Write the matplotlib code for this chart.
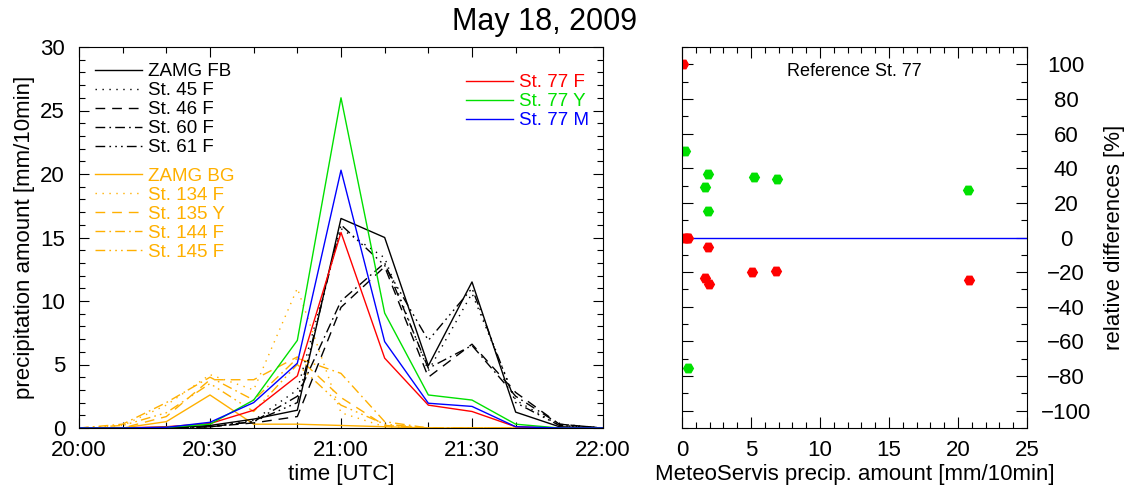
import matplotlib
matplotlib.use("Agg")
import matplotlib.pyplot as plt
from matplotlib.lines import Line2D
from matplotlib.ticker import MultipleLocator, FixedLocator
import numpy as np

plt.rcParams['font.family'] = ['Liberation Sans', 'DejaVu Sans']

# ---------------- data ----------------
times = ["20:00", "20:10", "20:20", "20:30", "20:40", "20:50", "21:00",
         "21:10", "21:20", "21:30", "21:40", "21:50", "22:00"]

zamg_fb = [0, 0, 0, 0.2, 0.7, 1.4, 16.5, 15.0, 4.9, 11.5, 1.25, 0.1, 0]
st45f   = [0, 0, 0, 0.1, 0.6, 3.0, 15.7, 13.4, 4.5, 10.6, 2.2, 0.2, 0]
st46f   = [0, 0, 0, 0.1, 0.4, 0.9, 9.5, 12.7, 4.0, 6.6, 2.8, 0.3, 0]
st60f   = [0, 0, 0, 0.1, 0.5, 2.5, 10.0, 13.0, 4.7, 6.5, 2.5, 0.3, 0]
st61f   = [0, 0, 0, 0.1, 0.5, 2.0, 16.0, 12.8, 6.9, 11.0, 2.0, 0.2, 0]

zamg_bg = [0, 0, 0.5, 2.6, 0.3, 0.3, 0.2, 0.1, 0, 0, 0, 0, 0]
st134f  = [0, 0.2, 1.8, 4.2, 3.0, 11.0, 1.2, 0.1, 0, 0, 0, 0, 0]
st135y  = [0, 0, 0.9, 3.8, 3.8, 5.6, 2.4, 0.2, 0, 0, 0, 0, 0]
st144f  = [0, 0.3, 2.0, 4.0, 2.2, 5.5, 4.3, 0.5, 0, 0, 0, 0, 0]
st145f  = [0, 0.2, 1.2, 3.5, 1.3, 5.0, 1.8, 0.3, 0, 0, 0, 0, 0]

st77f = [0, 0, 0.1, 0.35, 1.4, 4.1, 15.4, 5.5, 1.8, 1.3, 0.1, 0, 0]
st77y = [0, 0, 0.05, 0.3, 2.2, 6.9, 26.0, 9.05, 2.6, 2.2, 0.3, 0, 0]
st77m = [0, 0, 0.05, 0.45, 2.0, 5.1, 20.3, 6.8, 1.95, 1.7, 0.1, 0, 0]

# right panel: MeteoServis amount vs relative differences
red_x = [0.05, 0.2, 0.35, 0.45, 1.92, 1.7, 1.95, 5.1, 6.8, 20.8]
red_y = [100, 0, 0, 0, -5.4, -23.3, -26.6, -19.9, -19.3, -24.3]
grn_x = [0.24, 1.9, 1.7, 1.9, 5.2, 6.9, 20.7, 0.4]
grn_y = [49.7, 36.5, 29.0, 15.5, 35.2, 33.6, 27.6, -75.3]

xtick_labels = ["20:00", "20:30", "21:00", "21:30", "22:00"]

# ---------------- figure ----------------
W, H = 1131, 488
fig = plt.figure(figsize=(W / 100, H / 100), dpi=100)

def ax_rect(x0, y0, x1, y1):
    return [x0 / W, 1 - y1 / H, (x1 - x0) / W, (y1 - y0) / H]

ax = fig.add_axes(ax_rect(79, 47, 603, 428))
ax2 = fig.add_axes(ax_rect(682, 47, 1027, 428))

def to_min(t):
    h, m = t.split(":")
    return (int(h) - 20) * 60 + int(m)

tx = np.array([to_min(t) for t in times])

orange = '#FFB000'
dot = (0, (1, 4))
dash = (0, (7, 5))
dashdot = (0, (7, 3, 1.2, 3))
dash3dot = (0, (7, 3, 1.2, 3, 1.2, 3, 1.2, 3))
lw = 1.0

ax.plot(tx, zamg_bg, color=orange, lw=lw, ls='-')
ax.plot(tx, st134f, color=orange, lw=lw, ls=dot)
ax.plot(tx, st135y, color=orange, lw=lw, ls=dash)
ax.plot(tx, st144f, color=orange, lw=lw, ls=dashdot)
ax.plot(tx, st145f, color=orange, lw=lw, ls=dash3dot)

ax.plot(tx, zamg_fb, color='black', lw=lw, ls='-')
ax.plot(tx, st45f, color='black', lw=lw, ls=dot)
ax.plot(tx, st46f, color='black', lw=lw, ls=dash)
ax.plot(tx, st60f, color='black', lw=lw, ls=dashdot)
ax.plot(tx, st61f, color='black', lw=lw, ls=dash3dot)

ax.plot(tx, st77f, color='#FF0000', lw=lw)
ax.plot(tx, st77y, color='#00E000', lw=lw)
ax.plot(tx, st77m, color='#0000FF', lw=lw)

ax.set_xlim(0, 120)
ax.set_ylim(0, 30)
ax.xaxis.set_major_locator(FixedLocator([to_min(t) for t in xtick_labels]))
ax.set_xticklabels(xtick_labels)
ax.xaxis.set_minor_locator(MultipleLocator(10))
ax.yaxis.set_major_locator(MultipleLocator(5))
ax.yaxis.set_minor_locator(MultipleLocator(1))
ax.tick_params(which='both', direction='in', top=True, right=True, labelsize=16, width=0.8)
ax.tick_params(which='major', length=7)
ax.tick_params(which='minor', length=4)
ax.tick_params(axis='x', pad=9)
ax.tick_params(axis='y', pad=10)
ax.set_xlabel("time [UTC]", fontsize=16, labelpad=2)
ax.set_ylabel("precipitation amount [mm/10min]", fontsize=16, labelpad=4)

# legends
fs_leg = 13.5
common = dict(loc='upper left', frameon=False, fontsize=fs_leg, handlelength=2.5,
              handletextpad=0.35, labelspacing=0.1, borderpad=0, borderaxespad=0,
              labelcolor='linecolor')
hb = [Line2D([], [], color='black', lw=lw, ls='-'),
      Line2D([], [], color='black', lw=lw, ls=dot),
      Line2D([], [], color='black', lw=lw, ls=dash),
      Line2D([], [], color='black', lw=lw, ls=dashdot),
      Line2D([], [], color='black', lw=lw, ls=dash3dot)]
lb = ["ZAMG FB", "St. 45 F", "St. 46 F", "St. 60 F", "St. 61 F"]
leg_b = ax.legend(hb, lb, bbox_to_anchor=(16 / 524, 1 - 16 / 381), **common)
ax.add_artist(leg_b)

ho = [Line2D([], [], color=orange, lw=lw, ls='-'),
      Line2D([], [], color=orange, lw=lw, ls=dot),
      Line2D([], [], color=orange, lw=lw, ls=dash),
      Line2D([], [], color=orange, lw=lw, ls=dashdot),
      Line2D([], [], color=orange, lw=lw, ls=dash3dot)]
lo = ["ZAMG BG", "St. 134 F", "St. 135 Y", "St. 144 F", "St. 145 F"]
leg_o = ax.legend(ho, lo, bbox_to_anchor=(16 / 524, 1 - 120.5 / 381), **common)
ax.add_artist(leg_o)

h2 = [Line2D([], [], color='#FF0000', lw=lw),
      Line2D([], [], color='#00E000', lw=lw),
      Line2D([], [], color='#0000FF', lw=lw)]
l2 = ["St. 77 F", "St. 77 Y", "St. 77 M"]
leg2 = ax.legend(h2, l2, bbox_to_anchor=((466 - 79) / 524, 1 - 27 / 381), **common)

# right panel
ax2.axhline(0, color='#0000FF', lw=1)
ax2.plot(grn_x, grn_y, ls='none', marker='H', ms=7, color='#00E000', mec='#00E000')
ax2.plot(red_x, red_y, ls='none', marker='H', ms=7, color='#FF0000', mec='#FF0000')
ax2.set_xlim(0, 25)
ax2.set_ylim(-110, 110)
ax2.xaxis.set_major_locator(MultipleLocator(5))
ax2.xaxis.set_minor_locator(MultipleLocator(1))
ax2.yaxis.set_major_locator(MultipleLocator(20))
ax2.yaxis.set_minor_locator(MultipleLocator(10))
ax2.tick_params(which='both', direction='in', top=True, left=True, right=True,
                labelleft=False, labelright=True, labelsize=16, width=0.8)
ax2.tick_params(which='major', length=8)
ax2.tick_params(which='minor', length=4.5)
ax2.tick_params(axis='x', pad=9)
ax2.tick_params(axis='y', pad=28)
for lab in ax2.get_yticklabels():
    lab.set_horizontalalignment('center')
ax2.yaxis.set_label_position('right')
ax2.set_ylabel("relative differences [%]", fontsize=16, labelpad=9)
ax2.set_xlabel("MeteoServis precip. amount [mm/10min]", fontsize=16, labelpad=2)
ax2.text(0.5, 0.935, "Reference St. 77", transform=ax2.transAxes, ha='center',
         va='center', fontsize=13)

fig.text(545 / W, 1 - 22 / H, "May 18, 2009", ha='center', va='center', fontsize=22)

fig.savefig("out.png", dpi=100)
